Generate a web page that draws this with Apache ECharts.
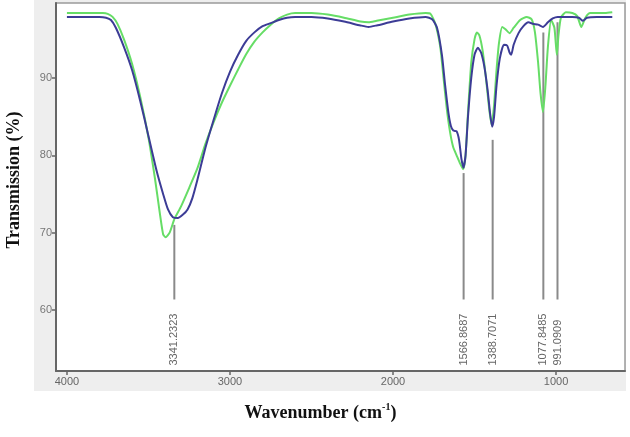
<!DOCTYPE html>
<html lang="en">
<head>
  <meta charset="UTF-8">
  <title>FTIR spectrum</title>
  <style>
    body { margin: 0; background: #fff; }
    #chart { width: 630px; height: 437px; }
  </style>
  <script src="https://cdn.jsdelivr.net/npm/echarts@6/dist/echarts.min.js"></script>
</head>
<body>
<div id="chart"></div>
<script>
  // wavenumber (cm-1) and transmission (%)
  var blueX = [4000, 3800, 3760, 3730, 3700, 3650, 3600, 3550, 3500, 3450, 3410, 3380, 3350, 3320, 3290, 3260, 3230, 3200,
    3150, 3100, 3050, 3000, 2950, 2900, 2850, 2800, 2750, 2700, 2650, 2600, 2500, 2400, 2300, 2200, 2150, 2100, 2000,
    1900, 1800, 1760, 1730, 1700, 1680, 1660, 1645, 1630, 1610, 1595, 1580, 1568, 1555, 1540, 1520, 1500, 1480, 1460,
    1440, 1420, 1405, 1392, 1380, 1365, 1345, 1320, 1300, 1285, 1275, 1260, 1230, 1200, 1170, 1140, 1110, 1080, 1050,
    1020, 990, 900, 860, 835, 810, 750, 655];
  var blueY = [97.9, 97.9, 97.8, 97.5, 96.5, 94.0, 91.0, 87.0, 82.5, 78.0, 75.0, 73.0, 72.0, 71.9, 72.3, 73.0, 74.5, 76.8,
    81.0, 84.6, 88.0, 90.8, 93.0, 94.8, 95.9, 96.7, 97.1, 97.5, 97.8, 97.9, 97.9, 97.7, 97.3, 96.8, 96.6, 96.8, 97.3,
    97.7, 97.9, 97.6, 96.5, 93.0, 89.0, 85.5, 83.8, 83.2, 83.1, 82.0, 79.5, 78.4, 80.0, 85.0, 90.0, 93.0, 93.9, 93.3,
    91.5, 88.5, 85.5, 83.7, 85.0, 89.0, 92.5, 94.3, 94.2, 93.3, 93.0, 94.3, 95.8, 96.7, 97.2, 97.0, 96.9, 96.6, 97.2,
    97.7, 97.9, 97.9, 97.8, 97.4, 97.8, 97.9, 97.9];

  var greenX = [4000, 3780, 3750, 3720, 3690, 3650, 3600, 3550, 3500, 3460, 3430, 3410, 3395, 3370, 3340, 3300, 3250, 3200,
    3150, 3100, 3050, 3000, 2950, 2900, 2850, 2800, 2750, 2700, 2650, 2600, 2500, 2400, 2300, 2200, 2150, 2100, 2000,
    1900, 1800, 1770, 1740, 1710, 1690, 1670, 1650, 1630, 1610, 1590, 1570, 1555, 1540, 1520, 1500, 1485, 1470, 1450,
    1430, 1410, 1395, 1380, 1365, 1350, 1330, 1310, 1285, 1260, 1220, 1180, 1150, 1130, 1110, 1095, 1080, 1065, 1050,
    1030, 1010, 995, 985, 970, 940, 900, 870, 845, 820, 790, 700, 655];
  var greenY = [98.4, 98.4, 98.3, 97.9, 97.0, 95.0, 91.8, 87.5, 82.3, 77.0, 72.5, 69.8, 69.4, 70.0, 71.8, 73.4, 75.8, 78.3,
    81.5, 84.3, 86.8, 89.0, 91.1, 93.1, 94.7, 95.9, 96.9, 97.7, 98.2, 98.4, 98.4, 98.2, 97.8, 97.3, 97.2, 97.4, 97.8,
    98.2, 98.4, 98.3, 97.0, 94.0, 90.0, 86.0, 83.0, 81.0, 80.0, 79.0, 78.2, 80.0, 85.5, 92.0, 95.0, 95.9, 95.5, 93.5,
    90.0, 86.0, 83.9, 86.5, 91.0, 94.5, 96.6, 96.3, 95.8, 96.5, 97.5, 97.9, 97.6, 96.0, 92.0, 88.0, 85.6, 89.0, 94.0,
    97.5, 96.5, 93.0, 95.5, 97.8, 98.5, 98.4, 98.0, 96.6, 97.8, 98.4, 98.4, 98.5];

  // peak markers: position, top of the drop line, label
  var peakX = [3341.2323, 1566.8687, 1388.7071, 1077.8485, 991.0909];
  var peakTop = [71.0, 77.7, 82.0, 95.9, 97.2];
  var peakLabels = ['3341.2323', '1566.8687', '1388.7071', '1077.8485', '991.0909'];
  var peakLineEnd = 61.35;
  var peakTextBase = 52.8;

  var xTicks = [1000, 2000, 3000, 4000];
  var yTicks = [60, 70, 80, 90];

  function pairs(xs, ys) {
    var out = [];
    for (var i = 0; i < xs.length; i++) out.push([xs[i], ys[i]]);
    return out;
  }

  var peakData = [];
  for (var i = 0; i < peakX.length; i++) {
    peakData.push([peakX[i], peakTop[i], peakLabels[i]]);
  }

  var myChart = echarts.init(document.getElementById('chart'));

  var option = {
    animation: false,
    graphic: [{
      type: 'rect',
      left: 34, top: 0, z: -1,
      shape: { width: 592, height: 391 },
      style: { fill: '#eeeeee' }
    }],
    grid: {
      left: 56, right: 5, top: 3, bottom: 66,
      outerBoundsMode: 'none',
      show: true,
      backgroundColor: '#ffffff',
      borderColor: '#9a9a9a',
      borderWidth: 1.5
    },
    xAxis: {
      type: 'value',
      inverse: true,
      min: 577,
      max: 4067,
      name: '{b|Wavenumber (cm}{s|-1}{b|)}',
      nameLocation: 'middle',
      nameGap: 31,
      nameTextStyle: {
        padding: [0, 40, 0, 0],
        rich: {
          b: { fontFamily: 'Liberation Serif', fontWeight: 'bold', fontSize: 18, color: '#111', lineHeight: 20, verticalAlign: 'bottom' },
          s: { fontFamily: 'Liberation Serif', fontWeight: 'bold', fontSize: 10, color: '#111', lineHeight: 20, verticalAlign: 'top' }
        }
      },
      splitLine: { show: false },
      axisLine: { onZero: false, lineStyle: { color: '#666', width: 2 } },
      axisTick: { customValues: xTicks, length: 4, lineStyle: { color: '#666', width: 1.5 } },
      axisLabel: {
        customValues: xTicks, color: '#666', fontSize: 11, fontFamily: 'Liberation Sans', margin: 5,
        formatter: function (v) { return String(v); }
      }
    },
    yAxis: {
      type: 'value',
      min: 52.1,
      max: 99.7,
      name: 'Transmission (%)',
      nameLocation: 'middle',
      nameGap: 33,
      nameTextStyle: {
        fontFamily: 'Liberation Serif', fontWeight: 'bold', fontSize: 18, color: '#111',
        padding: [0, 0, 0, 14]
      },
      splitLine: { show: false },
      axisLine: { onZero: false, lineStyle: { color: '#666', width: 2 } },
      axisTick: { customValues: yTicks, length: 4, lineStyle: { color: '#666', width: 1.5 } },
      axisLabel: { customValues: yTicks, color: '#777', fontSize: 11, fontFamily: 'Liberation Sans', margin: 4 }
    },
    series: [
      {
        type: 'custom',
        data: peakData,
        z: 1,
        renderItem: function (params, api) {
          var x = api.value(0);
          var top = api.coord([x, api.value(1)]);
          var end = api.coord([x, peakLineEnd]);
          var base = api.coord([x, peakTextBase]);
          return {
            type: 'group',
            children: [
              {
                type: 'line',
                shape: { x1: top[0], y1: top[1], x2: end[0], y2: end[1] },
                style: { stroke: '#8a8a8a', lineWidth: 2 }
              },
              {
                type: 'text',
                x: base[0], y: base[1],
                rotation: Math.PI / 2,
                style: {
                  text: peakLabels[params.dataIndex],
                  fill: '#666',
                  fontSize: 11,
                  fontFamily: 'Liberation Sans',
                  align: 'left',
                  verticalAlign: 'middle'
                }
              }
            ]
          };
        }
      },
      {
        name: 'green',
        type: 'line',
        data: pairs(greenX, greenY),
        showSymbol: false,
        smooth: 0.2,
        z: 3,
        lineStyle: { color: '#66dd66', width: 2 }
      },
      {
        name: 'blue',
        type: 'line',
        data: pairs(blueX, blueY),
        showSymbol: false,
        smooth: 0.2,
        z: 4,
        lineStyle: { color: '#3c3c96', width: 2 }
      }
    ]
  };

  myChart.setOption(option);
</script>
</body>
</html>
